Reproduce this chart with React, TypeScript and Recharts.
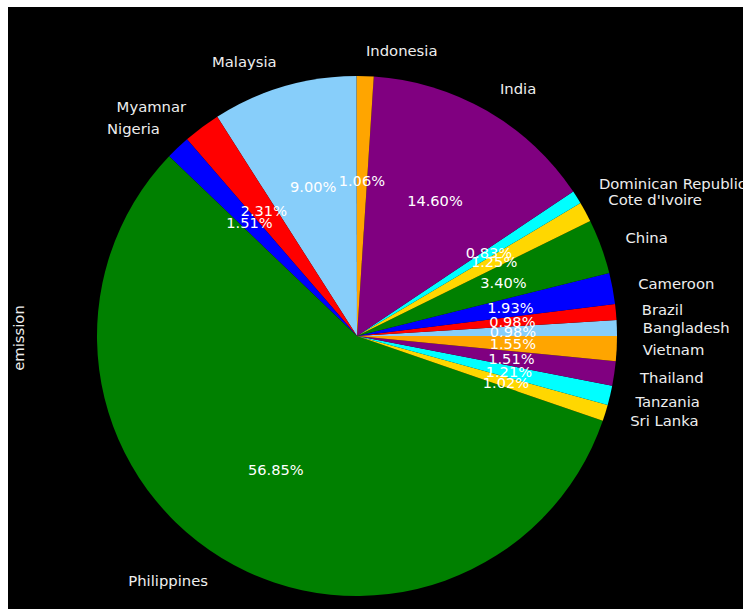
import { PieChart, Pie, Cell } from "recharts"

const countries = [
  "Bangladesh", "Brazil", "Cameroon", "China", "Cote d'Ivoire", "Dominican Republic",
  "India", "Indonesia", "Malaysia", "Myamnar", "Nigeria", "Philippines",
  "Sri Lanka", "Tanzania", "Thailand", "Vietnam",
]
const shares = [
  0.98, 0.98, 1.93, 3.40, 1.25, 0.83,
  14.60, 1.06, 9.00, 2.31, 1.51, 56.85,
  1.02, 1.21, 1.51, 1.55,
]
const palette = ["#87cefa", "#ff0000", "#0000ff", "#008000", "#ffd700", "#00ffff", "#800080", "#ffa500"]

const data = countries.map((name, i) => ({ name, value: shares[i] }))

const RAD = Math.PI / 180

function renderLabel(props: any) {
  const { cx, cy, midAngle, outerRadius, name, value } = props
  const cos = Math.cos(-midAngle * RAD)
  const sin = Math.sin(-midAngle * RAD)
  const lx = cx + outerRadius * 1.1 * cos
  const ly = cy + outerRadius * 1.1 * sin
  const px = cx + outerRadius * 0.6 * cos
  const py = cy + outerRadius * 0.6 * sin
  return (
    <g>
      <text x={lx} y={ly} fill="#eeeeee" fontSize={14.8} textAnchor={cos >= 0 ? "start" : "end"} dominantBaseline="central">
        {name}
      </text>
      <text x={px} y={py} fill="#ffffff" fontSize={14.6} textAnchor="middle" dominantBaseline="central">
        {value.toFixed(2)}%
      </text>
    </g>
  )
}

export default function App() {
  return (
    <div style={{ position: "fixed", left: 8, top: 7, width: 735, height: 602, background: "#000", overflow: "hidden", fontFamily: "DejaVu Sans" }}>
      <PieChart width={735} height={602} margin={{ top: 0, right: 0, bottom: 0, left: 0 }}>
        <Pie
          data={data}
          dataKey="value"
          nameKey="name"
          cx={349}
          cy={329}
          outerRadius={260}
          startAngle={0}
          endAngle={360}
          stroke="none"
          label={renderLabel}
          labelLine={false}
          isAnimationActive={false}
        >
          {data.map((entry, index) => (
            <Cell key={`cell-${index}`} fill={palette[index % palette.length]} />
          ))}
        </Pie>
        <text x={10} y={331} fill="#eeeeee" fontSize={14.8} textAnchor="middle" dominantBaseline="central" transform="rotate(-90 10 331)">
          emission
        </text>
      </PieChart>
    </div>
  )
}
